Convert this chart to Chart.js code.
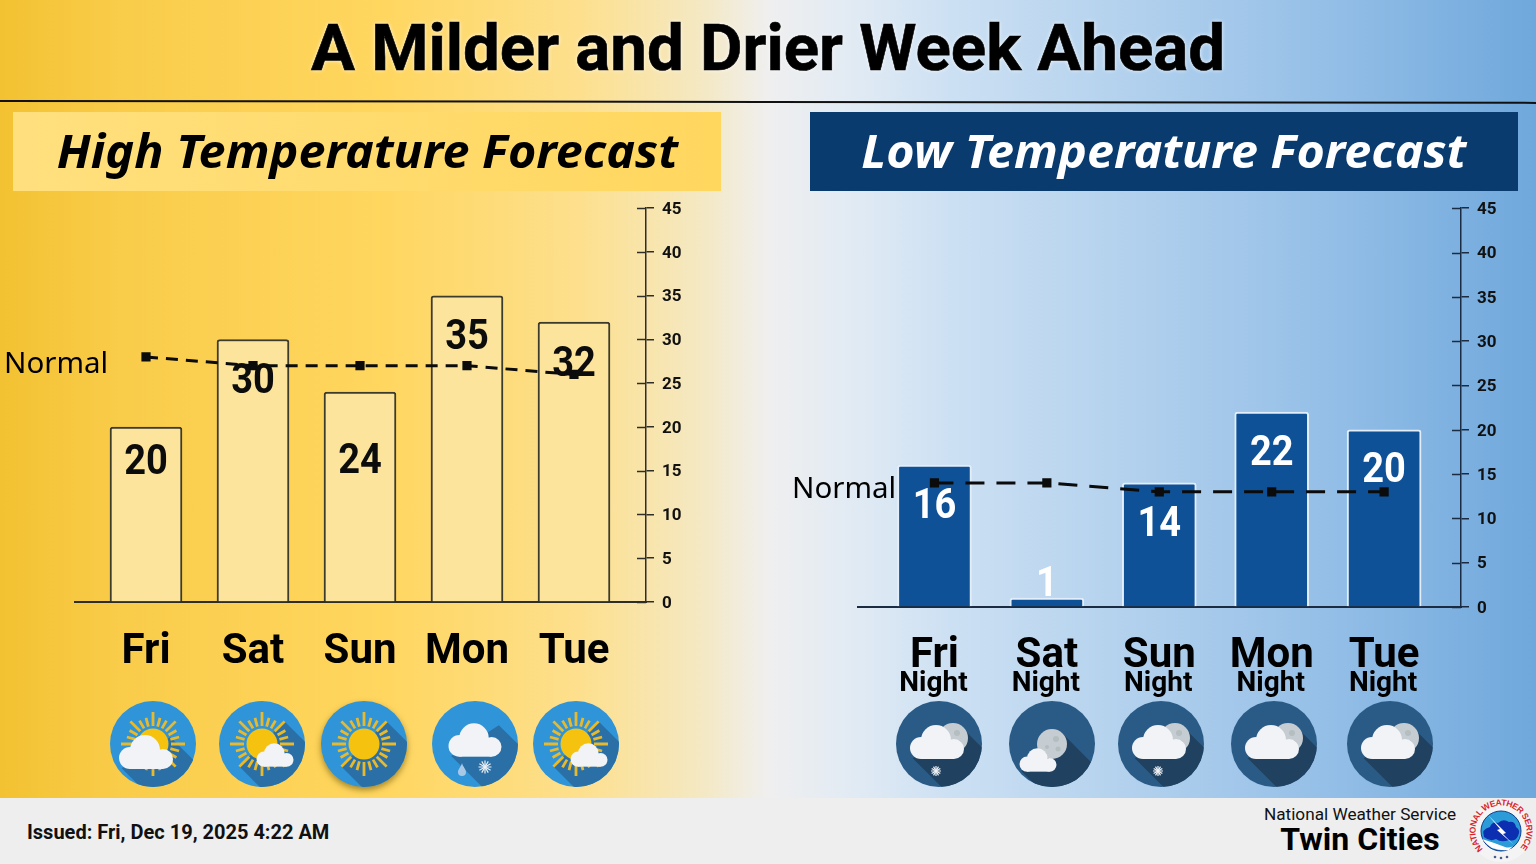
<!DOCTYPE html>
<html>
<head>
<meta charset="utf-8">
<title>A Milder and Drier Week Ahead</title>
<script src="https://cdn.jsdelivr.net/npm/chart.js@4"></script>
<style>
  html, body { margin: 0; padding: 0; }
  body { width: 1536px; height: 864px; position: relative; overflow: hidden; font-family: Roboto, sans-serif; color: #000;
    background: linear-gradient(90deg, #F3C232 0%, #F9CC4A 8%, #FFD65F 25%, #FDE08F 38%, #F4E9C6 46%, #EFEFEF 50%, #E0EAF4 56%, #CCE0F3 62%, #B6D3EE 72%, #98C1E8 85%, #6FA8DC 100%); }
  .abs { position: absolute; }
  canvas { position: absolute; display: block; }
  #title { left: 0; width: 1536px; top: 10px; text-align: center; font-size: 65.4px; line-height: 76px; font-weight: 700; -webkit-text-stroke: .6px #000; text-shadow: 0 0 4px rgba(255,255,255,.95); }
  #rule { left: 0; top: 100px; width: 1536px; height: 2px; background: #111; transform: rotate(.07deg); transform-origin: left center; }
  .banner { top: 112px; width: 708px; height: 79px; line-height: 76px; text-align: center; font-family: "Noto Sans", sans-serif; font-weight: 700; font-style: italic; font-size: 46px; }
  .banner span { display: inline-block; transform: scaleX(1.055); }
  #bannerHigh { left: 13px; background: linear-gradient(90deg, #FFE07E, #FFD75F); }
  #bannerLow { left: 810px; background: #0A3B6E; color: #fff; }
  .normal { font-family: "Noto Sans", sans-serif; font-size: 29.5px; line-height: 36px; }
  #footer { left: 0; top: 798px; width: 1536px; height: 66px; background: #EEEEEE; }
  #issued { left: 27px; top: 821px; font-size: 20px; line-height: 22px; font-weight: 700; color: #111; }
  #nws { left: 1240px; width: 240px; top: 805px; text-align: center; font-size: 17.2px; line-height: 18px; color: #111; }
  #office { left: 1240px; width: 240px; top: 820px; text-align: center; font-size: 32px; line-height: 38px; font-weight: 700; }
</style>
</head>
<body>
<div class="abs" id="title">A Milder and Drier Week Ahead</div>
<div class="abs" id="rule"></div>
<div class="abs banner" id="bannerHigh"><span>High Temperature Forecast</span></div>
<div class="abs banner" id="bannerLow"><span>Low Temperature Forecast</span></div>

<canvas id="highChart" width="700" height="480" style="left:0;top:190px"></canvas>
<canvas id="lowChart" width="756" height="510" style="left:780px;top:190px"></canvas>

<div class="abs normal" style="left:4px;top:344px">Normal</div>
<div class="abs normal" style="left:792px;top:469px">Normal</div>

<div class="abs" id="icons"></div>

<div class="abs" id="footer"></div>
<div class="abs" id="issued">Issued: Fri, Dec 19, 2025 4:22 AM</div>
<div class="abs" id="nws">National Weather Service</div>
<div class="abs" id="office">Twin Cities</div>
<svg class="abs" style="left:1469px;top:799px" width="64" height="64" viewBox="-32 -32 64 64">
  <circle r="31" fill="#f4f4f4"/>
  <defs><path id="logoArc" d="M -18 18 A 25.5 25.5 0 1 1 18 18"/></defs>
  <text font-family="'Liberation Sans', sans-serif" font-size="8.6" font-weight="700" fill="#D7262B"><textPath href="#logoArc" textLength="118" lengthAdjust="spacing">NATIONAL WEATHER SERVICE</textPath></text>
  <circle r="20" fill="#2B9CD8" stroke="#123C8C" stroke-width="1"/>
  <path d="M-19 8 Q-6 12 4 16 Q10 18 14 13 L8 19 Q0 20 -9 17 Q-15 13 -19 8Z" fill="#fff"/>
  <path d="M-17 6 Q-20 -2 -11 -4 Q-9 -10 -3 -8 Q2 -13 8 -9 Q14 -10 15 -4 Q20 -1 17 5 Q14 11 8 9 Q0 12 -5 8 Q-11 11 -17 6Z" fill="#0B2FB0"/>
  <path d="M-13 -16 L-1 -2 L-4 -1 L13 14 L2 3 L5 2 Z" fill="#fff"/>
  <g fill="#4A5A8A"><circle cx="-6" cy="26" r="1.3"/><circle cx="0" cy="27" r="1.3"/><circle cx="6" cy="26" r="1.3"/></g>
</svg>

<script>
// Werte
const axisTicks = [0, 5, 10, 15, 20, 25, 30, 35, 40, 45];
const highDays = ['Fri', 'Sat', 'Sun', 'Mon', 'Tue'];
const highValues = [20, 30, 24, 35, 32];
const highNormals = [28, 27, 27, 27, 26];
const lowDays = ['Fri', 'Sat', 'Sun', 'Mon', 'Tue'];
const lowValues = [16, 1, 14, 22, 20];
const lowNormals = [14, 14, 13, 13, 13];

const SUN = '#F4C20F', RAY = '#E9B92C', CLOUD = '#F1F3F6', MOON = '#C6CDD2';

// Wert-Beschriftungen, Achsen-Striche und optionale zweite Zeile
const decorations = {
    id: 'decorations',
    afterDatasetsDraw(chart, args, opts) {
        const { ctx, scales } = chart;
        const yScale = scales.y, xScale = scales.x;
        const axisX = xScale.right;

        ctx.save();
        ctx.strokeStyle = opts.axisColor;
        ctx.lineWidth = 1.5;
        yScale.ticks.forEach(t => {
            const py = Math.round(yScale.getPixelForValue(t.value)) + 0.5;
            ctx.beginPath();
            ctx.moveTo(axisX - 9, py);
            ctx.lineTo(axisX, py);
            ctx.stroke();
        });

        ctx.fillStyle = opts.labelColor;
        ctx.font = '700 42px Roboto';
        ctx.textAlign = 'center';
        ctx.textBaseline = 'middle';
        const bars = chart.getDatasetMeta(0).data;
        bars.forEach((bar, i) => {
            // Ziffern im Original sind schmal und hoch
            ctx.save();
            ctx.translate(bar.x, bar.y + opts.labelShift[i]);
            ctx.scale(0.905, 1);
            ctx.fillText(String(opts.values[i]), 0, 0);
            ctx.restore();
        });

        if (opts.subLabel) {
            ctx.fillStyle = '#000';
            ctx.font = '700 28px Roboto';
            opts.values.forEach((v, i) => {
                ctx.fillText(opts.subLabel, xScale.getPixelForValue(i) - 1, yScale.bottom + 77);
            });
        }
        ctx.restore();
    }
};

const makeChart = (id, days, values, normals, cfg) => {
    const ctx = document.getElementById(id).getContext('2d');
    const positions = days.map((d, i) => i);
    return new Chart(ctx, {
        type: 'bar',
        data: {
            datasets: [
                {
                    type: 'bar',
                    data: positions.map(i => ({ x: i, y: values[i] })),
                    backgroundColor: cfg.barFill,
                    borderColor: cfg.barBorder,
                    borderWidth: { top: 2, left: 2, right: 2, bottom: 0 },
                    borderSkipped: false,
                    borderRadius: { topLeft: 3, topRight: 3, bottomLeft: 0, bottomRight: 0 },
                    barThickness: cfg.barWidth,
                    order: 2
                },
                {
                    type: 'line',
                    data: positions.map(i => ({ x: i, y: normals[i] })),
                    borderColor: '#0b0b0b',
                    borderWidth: 3,
                    borderDash: cfg.dash,
                    pointStyle: 'rect',
                    pointRadius: 6.5,
                    pointBackgroundColor: '#0b0b0b',
                    pointBorderWidth: 0,
                    tension: 0,
                    order: 1
                }
            ]
        },
        plugins: [decorations],
        options: {
            responsive: false,
            animation: false,
            layout: { padding: { left: cfg.padLeft, top: 17, right: 0, bottom: 0 } },
            plugins: {
                legend: { display: false },
                tooltip: { enabled: false },
                decorations: {
                    values: values,
                    labelShift: cfg.labelShift,
                    labelColor: cfg.labelColor,
                    axisColor: cfg.axisColor,
                    subLabel: cfg.subLabel
                }
            },
            scales: {
                x: {
                    type: 'linear',
                    offset: false,
                    min: cfg.xMin,
                    max: cfg.xMax,
                    afterBuildTicks: scale => { scale.ticks = positions.map(i => ({ value: i })); },
                    afterFit: scale => { scale.height = cfg.xHeight; },
                    grid: { display: false, drawTicks: false },
                    border: { color: cfg.axisColor, width: 2 },
                    ticks: {
                        autoSkip: false,
                        maxRotation: 0,
                        padding: cfg.xPad,
                        color: '#000',
                        font: { family: 'Roboto', size: 42, weight: '700' },
                        callback: v => days[v]
                    }
                },
                y: {
                    position: 'right',
                    min: 0,
                    max: 45,
                    afterBuildTicks: scale => { scale.ticks = axisTicks.map(v => ({ value: v })); },
                    afterFit: scale => { scale.width = cfg.yWidth; },
                    grid: { drawOnChartArea: false, color: cfg.axisColor, tickLength: 8, lineWidth: 1.5 },
                    border: { color: cfg.axisColor, width: 1.5 },
                    ticks: {
                        padding: 8,
                        labelOffset: 1.5,
                        color: '#111',
                        font: { family: 'Roboto', size: 17, weight: '700' }
                    }
                }
            }
        }
    });
};

makeChart('highChart', highDays, highValues, highNormals, {
    barFill: '#FDE49C', barBorder: '#3B3B2E', barWidth: 72, dash: [12, 8],
    padLeft: 75, xMin: -0.6636, xMax: 4.673, xHeight: 68, xPad: 25, yWidth: 54,
    labelColor: '#0c0c0c', axisColor: '#2E2E28', labelShift: [37, 43, 71, 43, 44]
});

makeChart('lowChart', lowDays, lowValues, lowNormals, {
    barFill: '#0F5197', barBorder: '#E4EEF8', barWidth: 74, dash: [19, 12],
    padLeft: 78, xMin: -0.68, xMax: 4.684, xHeight: 93, xPad: 24, yWidth: 75,
    labelColor: '#ffffff', axisColor: '#1B2B42', labelShift: [42, -13, 43, 42, 42], subLabel: 'Night'
});

// Wetter-Symbole (nur Dekoration, keine Daten)
let iconCount = 0;

const cloudShape = (cx, cy, w) => {
    const s = w / 54;
    return `<g transform="translate(${cx} ${cy}) scale(${s})" fill="${CLOUD}">
        <circle cx="-1" cy="-2" r="15"/><circle cx="-16" cy="6" r="11"/><circle cx="17" cy="7" r="10"/>
        <rect x="-16" y="2" width="33" height="15"/></g>`;
};

const cloudShadow = (cx, cy, w) => {
    const a = [cx + .45 * w, cy - .28 * w], b = [cx - .45 * w, cy + .3 * w];
    return `<polygon points="${a} ${a[0] + 70},${a[1] + 70} ${b[0] + 70},${b[1] + 70} ${b}"/>`;
};

const sunShape = () => {
    let rays = '';
    for (let i = 0; i < 24; i++) {
        const ang = i * Math.PI / 12;
        const r2 = i % 3 === 0 ? 32 : 27;
        rays += `<line x1="${18 * Math.cos(ang)}" y1="${18 * Math.sin(ang)}" x2="${r2 * Math.cos(ang)}" y2="${r2 * Math.sin(ang)}"/>`;
    }
    return `<g stroke="${RAY}" stroke-width="2.8">${rays}</g><circle r="15.5" fill="${SUN}"/>`;
};

const moonShape = (cx, cy) => `<circle cx="${cx}" cy="${cy}" r="15" fill="${MOON}"/>
    <circle cx="${cx + 4}" cy="${cy - 5}" r="3" fill="#B4BDBF"/><circle cx="${cx - 5}" cy="${cy + 3}" r="2" fill="#B4BDBF"/><circle cx="${cx + 6}" cy="${cy + 5}" r="2.5" fill="#B4BDBF"/>`;

const snowflake = (cx, cy, r) => {
    let arms = '';
    for (let i = 0; i < 6; i++) {
        const a = i * Math.PI / 6;
        arms += `<line x1="${cx - r * Math.cos(a)}" y1="${cy - r * Math.sin(a)}" x2="${cx + r * Math.cos(a)}" y2="${cy + r * Math.sin(a)}"/>`;
    }
    return `<g stroke="#EEF2F6" stroke-width="1.2">${arms}</g>`;
};

const drop = (cx, cy) => `<path d="M${cx} ${cy - 6} C${cx - 1} ${cy - 2} ${cx - 4} ${cy} ${cx - 4} ${cy + 3} A4 4 0 0 0 ${cx + 4} ${cy + 3} C${cx + 4} ${cy} ${cx + 1} ${cy - 2} ${cx} ${cy - 6}Z" fill="#A9C8E6"/>`;

const iconKinds = {
    sunBigCloud: { shadow: cloudShadow(-7, 8, 54), art: sunShape() + cloudShape(-7, 8, 54) },
    sunSmallCloud: { shadow: '<polygon points="22.6,-22.6 92,47 47,92 -22.6,22.6"/>', art: sunShape() + cloudShape(13, 11, 37) },
    sun: { shadow: '<polygon points="22.6,-22.6 92,47 47,92 -22.6,22.6"/>', art: sunShape(), glow: true },
    mixed: { shadow: cloudShadow(0, -4, 53), art: cloudShape(0, -4, 53) + drop(-13, 25) + snowflake(10, 23, 6.5) },
    moonSnow: { shadow: cloudShadow(-2, -2, 54), art: moonShape(14, -6) + cloudShape(-2, -2, 54) + snowflake(-3, 27, 5) },
    moonSmallCloud: { shadow: '<polygon points="10.6,-10.6 80,60 60,80 -10.6,10.6"/>' + cloudShadow(-14, 16, 37), art: moonShape(0, 0) + cloudShape(-14, 16, 37) },
    moonCloud: { shadow: cloudShadow(-2, -2, 54), art: moonShape(14, -6) + cloudShape(-2, -2, 54) }
};

const addIcon = (x, y, kind, base, dark) => {
    const id = 'clip' + (iconCount++);
    const k = iconKinds[kind];
    const style = `position:absolute;left:${x - 45}px;top:${y - 45}px` + (k.glow ? ';filter:drop-shadow(0 3px 3px rgba(90,70,0,.55))' : '');
    document.getElementById('icons').insertAdjacentHTML('beforeend',
        `<svg width="90" height="90" viewBox="-45 -45 90 90" style="${style}">
            <clipPath id="${id}"><circle r="43"/></clipPath>
            <circle r="43" fill="${base}"/>
            <g clip-path="url(#${id})" fill="${dark}">${k.shadow}</g>
            <g clip-path="url(#${id})">${k.art}</g>
        </svg>`);
};

[[153, 'sunBigCloud'], [262, 'sunSmallCloud'], [364, 'sun'], [475, 'mixed'], [576, 'sunSmallCloud']]
    .forEach(([x, kind]) => addIcon(x, 744, kind, '#3094D8', '#2A6FA6'));
[[939, 'moonSnow'], [1052, 'moonSmallCloud'], [1161, 'moonSnow'], [1274, 'moonCloud'], [1390, 'moonCloud']]
    .forEach(([x, kind]) => addIcon(x, 744, kind, '#2A5B86', '#20415F'));
</script>
</body>
</html>
